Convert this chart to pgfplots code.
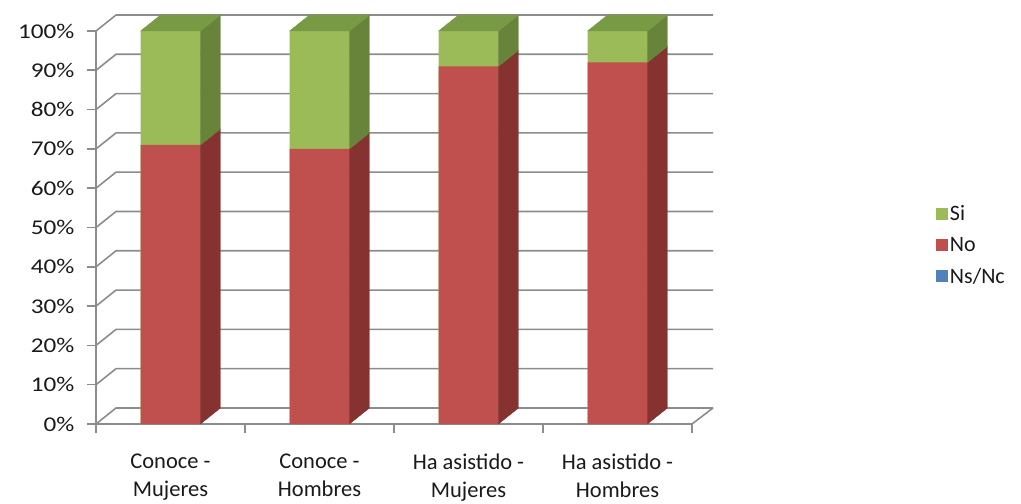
\documentclass[border=0pt]{standalone}
\usepackage{pgfplots}
\pgfplotsset{compat=1.18}
\usepackage{fontspec}
\setmainfont{Carlito}
\newfontfamily\widefont[FakeStretch=1.2]{Carlito}
\definecolor{siF}{HTML}{9BBB59}
\definecolor{siS}{HTML}{67843A}
\definecolor{siT}{HTML}{789A45}
\definecolor{noF}{HTML}{C0504D}
\definecolor{noS}{HTML}{853230}
\definecolor{nsF}{HTML}{4F81BD}
\definecolor{gridc}{HTML}{8C8C8C}
\definecolor{txt}{HTML}{1A1A1A}
\begin{document}
\begin{tikzpicture}
\useasboundingbox (0,0) rectangle (1021bp,504bp);
\begin{axis}[
  at={(96bp,80bp)}, anchor=south west,
  scale only axis, width=596bp, height=393bp,
  xmin=0, xmax=4, ymin=0, ymax=100,
  clip=false,
  axis lines*=left,
  axis line style={gridc, line width=1.6bp},
  tick style={gridc, line width=1.6bp},
  tick align=outside, major tick length=9bp,
  xtick={0,1,2,3,4}, xticklabels={},
  extra x ticks={0.5,1.5,2.5,3.5},
  extra x tick labels={{Conoce -\\Mujeres},{Conoce -\\Hombres},{Ha asistido -\\Mujeres},{Ha asistido -\\Hombres}},
  extra x tick style={major tick length=0pt, tick label style={align=center, yshift=-26bp, font=\fontsize{22.5bp}{28bp}\selectfont}},
  ytick={0,10,...,100},
  yticklabel={\pgfmathprintnumber{\tick}\%},
  /pgf/number format/assume math mode=true,
  tick label style={font=\fontsize{21bp}{25bp}\selectfont, text=txt},
  yticklabel style={xshift=-9bp, font=\widefont\fontsize{21bp}{25bp}\selectfont},
  legend image code/.code={\fill[#1] (0bp,-6bp) rectangle (12bp,6bp);},
  legend style={at={(rel axis cs:1.409,0.455)}, anchor=west, draw=none, fill=none,
     font=\fontsize{22bp}{26bp}\selectfont, text=txt, row sep=11bp, inner sep=0pt},
  legend cell align=left,
]
% back wall / floor grid
\pgfplotsinvokeforeach{0,10,...,100}{
  \draw[gridc, line width=1.6bp, line join=round] (axis cs:0,#1) -- ([shift={(20bp,16bp)}]axis cs:0,#1) -- ([shift={(21bp,16bp)}]axis cs:4,#1);
}
\draw[gridc, line width=1.6bp] (axis cs:4,0) -- ([shift={(21bp,16bp)}]axis cs:4,0);

% front faces
\addplot[ybar, bar width=0.4027, bar shift=0pt, fill=siF, draw=none] coordinates {(0.5,100) (1.5,100) (2.5,100) (3.5,100)};
\addlegendentry{Si}
\addplot[ybar, bar width=0.4027, bar shift=0pt, fill=noF, draw=none] coordinates {(0.5,71) (1.5,70) (2.5,91) (3.5,92)};
\addlegendentry{No}
\addplot[ybar, bar width=0.4027, bar shift=0pt, fill=nsF, draw=none] coordinates {(0.5,0) (1.5,0) (2.5,0) (3.5,0)};
\addlegendentry{Ns/Nc}

% side faces (No)
\addplot[fill=noS, draw=noS, line width=0.3bp, forget plot] coordinates {(0.7013,0) (0.8355,4.071) (0.8355,75.071) (0.7013,71)} -- cycle;
\addplot[fill=noS, draw=noS, line width=0.3bp, forget plot] coordinates {(1.7013,0) (1.8355,4.071) (1.8355,74.071) (1.7013,70)} -- cycle;
\addplot[fill=noS, draw=noS, line width=0.3bp, forget plot] coordinates {(2.7013,0) (2.8355,4.071) (2.8355,95.071) (2.7013,91)} -- cycle;
\addplot[fill=noS, draw=noS, line width=0.3bp, forget plot] coordinates {(3.7013,0) (3.8355,4.071) (3.8355,96.071) (3.7013,92)} -- cycle;
% side faces (Si)
\addplot[fill=siS, draw=siS, line width=0.3bp, forget plot] coordinates {(0.7013,71) (0.8355,75.071) (0.8355,104.071) (0.7013,100)} -- cycle;
\addplot[fill=siS, draw=siS, line width=0.3bp, forget plot] coordinates {(1.7013,70) (1.8355,74.071) (1.8355,104.071) (1.7013,100)} -- cycle;
\addplot[fill=siS, draw=siS, line width=0.3bp, forget plot] coordinates {(2.7013,91) (2.8355,95.071) (2.8355,104.071) (2.7013,100)} -- cycle;
\addplot[fill=siS, draw=siS, line width=0.3bp, forget plot] coordinates {(3.7013,92) (3.8355,96.071) (3.8355,104.071) (3.7013,100)} -- cycle;
% top faces (Si)
\addplot[fill=siT, draw=siT, line width=0.3bp, forget plot] coordinates {(0.2987,100) (0.7013,100) (0.8355,104.071) (0.4329,104.071)} -- cycle;
\addplot[fill=siT, draw=siT, line width=0.3bp, forget plot] coordinates {(1.2987,100) (1.7013,100) (1.8355,104.071) (1.4329,104.071)} -- cycle;
\addplot[fill=siT, draw=siT, line width=0.3bp, forget plot] coordinates {(2.2987,100) (2.7013,100) (2.8355,104.071) (2.4329,104.071)} -- cycle;
\addplot[fill=siT, draw=siT, line width=0.3bp, forget plot] coordinates {(3.2987,100) (3.7013,100) (3.8355,104.071) (3.4329,104.071)} -- cycle;
\end{axis}
\end{tikzpicture}
\end{document}
